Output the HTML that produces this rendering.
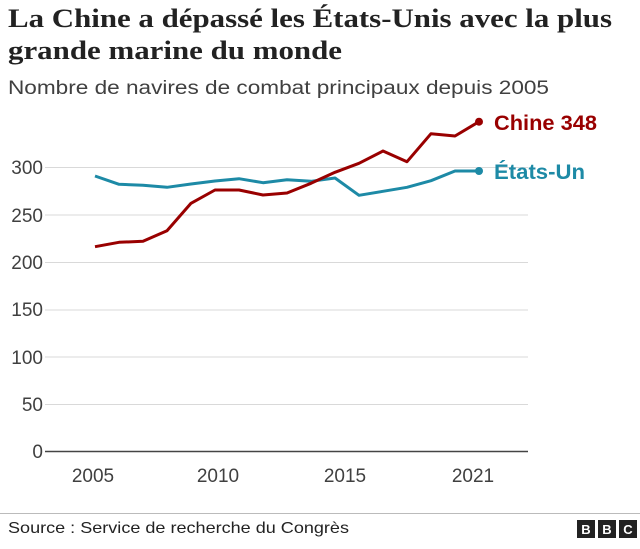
<!DOCTYPE html>
<html><head><meta charset="utf-8"><style>
body{margin:0;width:640px;height:544px;background:#fff;overflow:hidden;font-family:"Liberation Sans",sans-serif;}
</style></head><body>
<svg width="640" height="544" xmlns="http://www.w3.org/2000/svg">
<text x="8" y="27" font-family="Liberation Serif,serif" font-weight="bold" font-size="26" fill="#222" textLength="604" lengthAdjust="spacingAndGlyphs">La Chine a dépassé les États-Unis avec la plus</text>
<text x="8" y="59" font-family="Liberation Serif,serif" font-weight="bold" font-size="26" fill="#222" textLength="334" lengthAdjust="spacingAndGlyphs">grande marine du monde</text>
<text x="8" y="94" font-size="19" fill="#404040" textLength="541" lengthAdjust="spacingAndGlyphs">Nombre de navires de combat principaux depuis 2005</text>
<g stroke="#d9d9d9" stroke-width="1">
<line x1="45" x2="528" y1="167.5" y2="167.5"/>
<line x1="45" x2="528" y1="215" y2="215"/>
<line x1="45" x2="528" y1="262.5" y2="262.5"/>
<line x1="45" x2="528" y1="310" y2="310"/>
<line x1="45" x2="528" y1="357" y2="357"/>
<line x1="45" x2="528" y1="404.5" y2="404.5"/>
</g>
<line x1="45" x2="528" y1="451.5" y2="451.5" stroke="#444" stroke-width="1.5"/>
<g font-size="19" fill="#404040" text-anchor="end">
<text x="43" y="174">300</text><text x="43" y="222">250</text><text x="43" y="269">200</text>
<text x="43" y="316">150</text><text x="43" y="364">100</text><text x="43" y="411">50</text><text x="43" y="458">0</text>
</g>
<g font-size="19" fill="#404040" text-anchor="middle">
<text x="93" y="482">2005</text><text x="218" y="482">2010</text><text x="345" y="482">2015</text><text x="473" y="482">2021</text>
</g>
<polyline fill="none" stroke="#1d8aa6" stroke-width="3" stroke-linejoin="round" points="95,176 119,184.3 143,185.3 167,187.3 191,184 215,181 239,178.7 263,182.7 287,179.7 311,181.3 335,178 359,195.3 383,191.3 407,187.3 431,180.7 455,171 479,171"/>
<circle cx="479" cy="171" r="4" fill="#1d8aa6"/>
<polyline fill="none" stroke="#990000" stroke-width="3" stroke-linejoin="round" points="95,246.7 119,242.3 143,241.3 167,230.7 191,203.3 215,190 239,190 263,195 287,193 311,183.3 335,172.3 359,163.3 383,151 407,161.7 431,133.7 455,136 479,121.7"/>
<circle cx="479" cy="121.7" r="4" fill="#990000"/>
<text x="494" y="130" font-size="21" font-weight="bold" fill="#990000" textLength="103" lengthAdjust="spacingAndGlyphs">Chine 348</text>
<text x="494" y="179" font-size="21" font-weight="bold" fill="#1d8aa6" textLength="91" lengthAdjust="spacingAndGlyphs">États-Un</text>
<line x1="0" x2="640" y1="513.5" y2="513.5" stroke="#bbb" stroke-width="1"/>
<text x="8" y="533" font-size="16" fill="#222" textLength="341" lengthAdjust="spacingAndGlyphs">Source : Service de recherche du Congrès</text>
<g font-size="13" font-weight="bold" fill="#fff" text-anchor="middle">
<rect x="577" y="520" width="18" height="18" fill="#222"/><text x="586" y="534">B</text>
<rect x="598" y="520" width="18" height="18" fill="#222"/><text x="607" y="534">B</text>
<rect x="619" y="520" width="18" height="18" fill="#222"/><text x="628" y="534">C</text>
</g>
</svg>
</body></html>
